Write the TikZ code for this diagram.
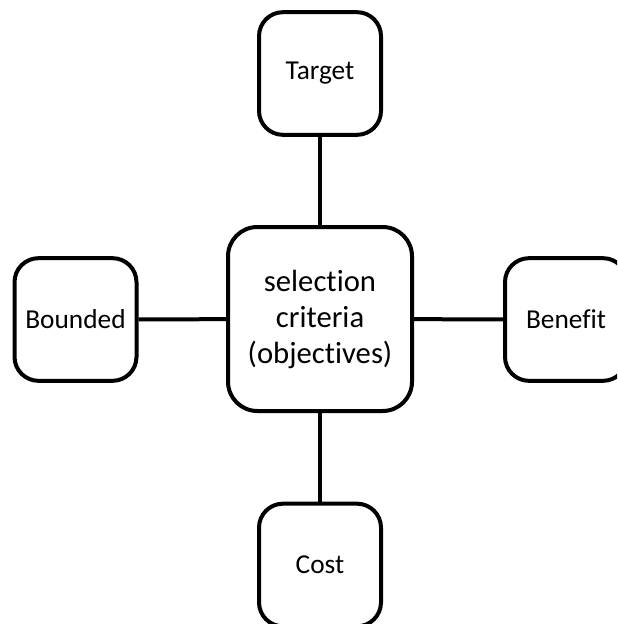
\documentclass[tikz,border=0pt]{standalone}
\usepackage{fontspec}
\setmainfont[Ligatures=NoCommon]{Carlito}
\begin{document}
\begin{tikzpicture}[x=0.75pt,y=-0.75pt,
  box/.style={draw=black, line width=3pt, fill=white, align=center,
    inner sep=0pt},
  leaf/.style={box, rounded corners=18pt, minimum width=91.5pt, minimum height=92pt,
    font=\fontsize{20.5}{27}\selectfont},
  hub/.style={box, rounded corners=22pt, minimum width=138pt, minimum height=138pt,
    font=\fontsize{23}{27}\selectfont},
  link/.style={draw=black, line width=3pt}]
  % page frame; the outer boxes run off the right and bottom edges
  \clip (0,0) rectangle (617,624);
  \fill[white] (0,0) rectangle (617,624);

  \node[hub]  (crit)    at (320,319)   {selection\\criteria\\(objectives)};
  \node[leaf] (target)  at (320,73.5)  {Target};
  \node[leaf] (cost)    at (320,565)   {Cost};
  \node[leaf] (bounded) at (75.5,319.5) {Bounded};
  \node[leaf] (benefit) at (566,319.5) {Benefit};

  \draw[link] (crit) -- (target);
  \draw[link] (crit) -- (cost);
  \draw[link] (crit) -- (bounded);
  \draw[link] (crit) -- (benefit);
\end{tikzpicture}
\end{document}
